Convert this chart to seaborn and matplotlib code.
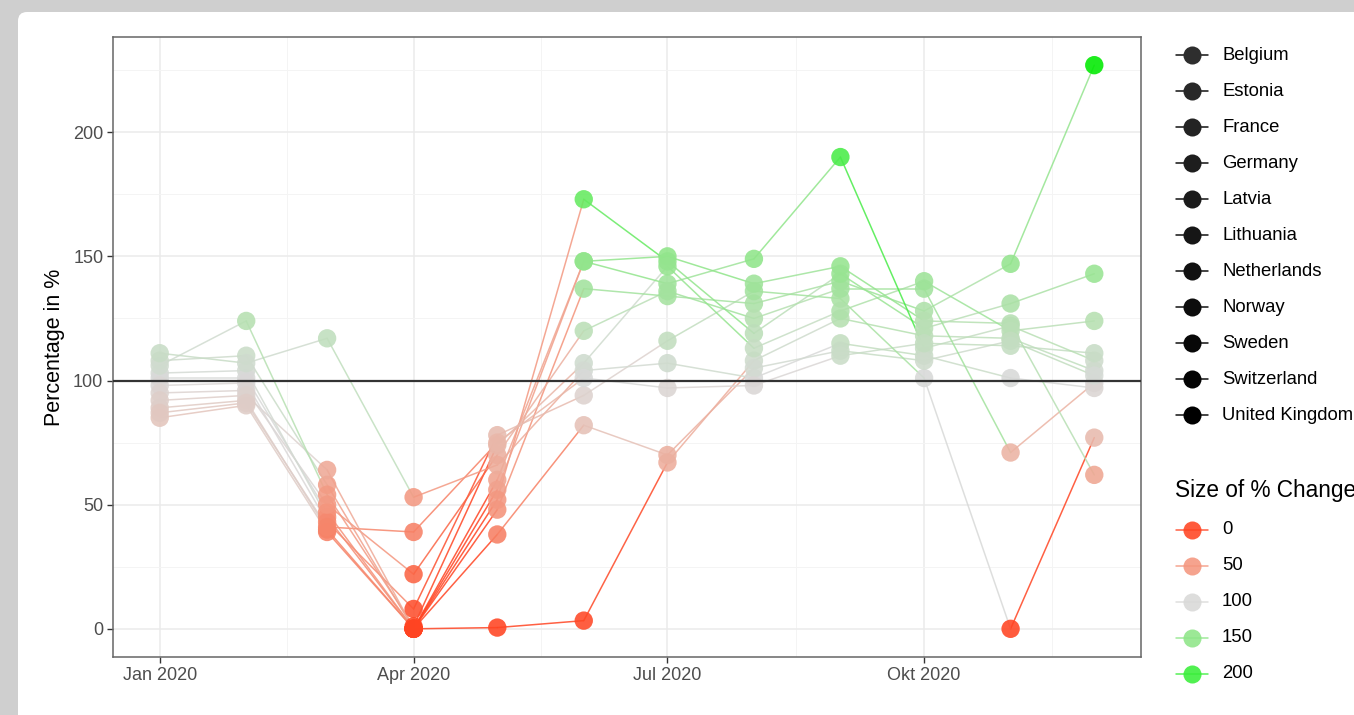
import numpy as np
import pandas as pd
import matplotlib
matplotlib.use("Agg")
import matplotlib.pyplot as plt
import matplotlib.dates as mdates
import seaborn as sns
from matplotlib.colors import LinearSegmentedColormap, Normalize
from matplotlib.patches import FancyBboxPatch
from matplotlib.lines import Line2D

# ---------------- data ----------------
months = ["2020-01-01", "2020-02-01", "2020-03-01", "2020-04-01", "2020-05-01", "2020-06-01",
          "2020-07-01", "2020-08-01", "2020-09-01", "2020-10-01", "2020-11-01", "2020-12-01"]
countries = ["Belgium", "Estonia", "France", "Germany", "Latvia", "Lithuania",
             "Netherlands", "Norway", "Sweden", "Switzerland", "United Kingdom"]

belgium = [89, 92, 40, 0, 0.5, 3.3, 67, 108, 125, 118, 117, 104]
estonia = [103, 104, 45, 0, 56, 148, 139, 149, 190, 113, 122, 108]
france = [101, 101, 47, 0, 48, 137, 134, 131, 140, 128, 147, 227]
germany = [98, 99, 43, 8, 78, 94, 116, 136, 133, 101, 0, 77]
latvia = [95, 96, 50, 22, 70, 120, 136, 125, 137, 137, 71, 99]
lithuania = [108, 110, 58, 0, 60, 148, 150, 139, 146, 124, 123, 62]
netherlands = [92, 94, 64, 0, 52, 173, 148, 119, 143, 121, 131, 143]
norway = [106, 124, 54, 1, 74, 107, 146, 113, 128, 140, 120, 124]
sweden = [111, 107, 117, 53, 66, 104, 107, 101, 115, 110, 101, 97]
switzerland = [85, 90, 39, 0, 38, 82, 70, 105, 112, 108, 116, 102]
united_kingdom = [87, 91, 41, 39, 75, 101, 97, 98, 110, 115, 114, 111]

series = [belgium, estonia, france, germany, latvia, lithuania,
          netherlands, norway, sweden, switzerland, united_kingdom]

x_tick_dates = ["2020-01-01", "2020-04-01", "2020-07-01", "2020-10-01"]
x_tick_labels = ["Jan 2020", "Apr 2020", "Jul 2020", "Okt 2020"]
y_ticks = [0, 50, 100, 150, 200]
legend_values = [0, 50, 100, 150, 200]
legend_title = "Size of % Change"
y_label = "Percentage in %"

# ---------------- colour scale ----------------
anchor_vals = [0, 25, 50, 75, 100, 125, 150, 175, 200, 227]
anchor_cols = ["#FF4422", "#FA6A4A", "#F4967E", "#E9B8AA", "#D9D9D9",
               "#B4E0AF", "#8FE589", "#62EA5E", "#3AEE3A", "#00EA00"]
vmin, vmax = 0, 227
cmap = LinearSegmentedColormap.from_list(
    "chg", [((v - vmin) / (vmax - vmin), c) for v, c in zip(anchor_vals, anchor_cols)])
norm = Normalize(vmin, vmax)

# ---------------- long data ----------------
dates = pd.to_datetime(months)
pts = pd.DataFrame([(c, d, v) for c, s in zip(countries, series) for d, v in zip(dates, s)],
                   columns=["country", "date", "value"])
seg_rows = []
sid = 0
for c, s in zip(countries, series):
    for i in range(len(s) - 1):
        seg_rows.append((c, sid, dates[i], s[i], s[i]))
        seg_rows.append((c, sid, dates[i + 1], s[i + 1], s[i]))
        sid += 1
segs = pd.DataFrame(seg_rows, columns=["country", "seg", "date", "value", "start"])

# ---------------- figure ----------------
sns.set_theme(style="white")
plt.rcParams["font.family"] = ["Liberation Sans", "DejaVu Sans"]

W, H = 1354, 715
fig = plt.figure(figsize=(W / 100, H / 100), dpi=100, facecolor="#CFCFCF")
frame = FancyBboxPatch((0.18, -0.5), 14.0, (H - 12) / 100 + 0.5,
                       boxstyle="round,pad=0,rounding_size=0.09",
                       transform=fig.dpi_scale_trans, facecolor="white",
                       edgecolor="none", zorder=-5)
fig.patches.append(frame)

L, R, T, B = 113, 1141, 37, 657
ax = fig.add_axes([L / W, 1 - B / H, (R - L) / W, (B - T) / H])
ax.set_zorder(1)
ax.set_facecolor("white")

sns.lineplot(data=segs, x="date", y="value", hue="start", units="seg", estimator=None,
             palette=cmap, hue_norm=norm, legend=False, sort=False,
             linewidth=1.1, alpha=0.85, ax=ax, zorder=2)
sns.scatterplot(data=pts, x="date", y="value", hue="value", palette=cmap, hue_norm=norm,
                s=175, alpha=0.88, linewidth=0, legend=False, ax=ax, zorder=3)
ax.axhline(100, color="#333333", lw=1.6, zorder=4)

# axes scales
d0 = mdates.date2num(dates[0]); d1 = mdates.date2num(dates[-1])
pad = 0.05 * (d1 - d0)
ax.set_xlim(d0 - pad, d1 + pad)
ax.set_ylim(-0.05 * 227, 227 * 1.05)

major = [mdates.date2num(pd.Timestamp(d)) for d in x_tick_dates]
minor = [(a + b) / 2 for a, b in zip(major, major[1:] + [mdates.date2num(pd.Timestamp("2021-01-01"))])]
ax.set_xticks(major)
ax.set_xticklabels(x_tick_labels)
ax.set_xticks(minor, minor=True)
ax.set_yticks(y_ticks)
ax.set_yticks([25, 75, 125, 175, 225], minor=True)

ax.grid(which="major", color="#EBEBEB", lw=1.1)
ax.grid(which="minor", color="#F4F4F4", lw=0.7)
ax.set_axisbelow(True)
ax.tick_params(which="major", length=4, width=1, color="#333333",
               labelsize=13, labelcolor="#4D4D4D", pad=3, bottom=True, left=True)
ax.tick_params(which="minor", length=0)
for sp in ax.spines.values():
    sp.set_color("#666666")
    sp.set_linewidth(1.1)
ax.set_xlabel("")
ax.set_ylabel(y_label, fontsize=15.5, color="black", va="center")
ax.yaxis.set_label_coords((55 - L) / (R - L), 0.5)

# ---------------- legends (manual, in pixel positions) ----------------
def fx(px):
    return px / W

def fy(py):
    return 1 - py / H

key_cols = [plt.cm.Greys(v) for v in np.linspace(0.85, 1.0, len(countries))]
for i, c in enumerate(countries):
    y = 55 + 36 * i
    fig.add_artist(Line2D([fx(1176), fx(1208)], [fy(y), fy(y)], color="#111111", lw=1.1))
    fig.add_artist(Line2D([fx(1192)], [fy(y)], marker="o", markersize=13,
                          markerfacecolor=key_cols[i], markeredgewidth=0, ls="none"))
    fig.text(fx(1222), fy(y), c, fontsize=13.3, va="center", ha="left", color="black")

fig.text(fx(1175), fy(490), legend_title, fontsize=16.3, va="center", ha="left", color="black")
for i, v in enumerate(legend_values):
    y = 530 + 36 * i
    col = cmap(norm(v))
    fig.add_artist(Line2D([fx(1176), fx(1208)], [fy(y), fy(y)], color=col, lw=1.1, alpha=0.85))
    fig.add_artist(Line2D([fx(1192)], [fy(y)], marker="o", markersize=13,
                          markerfacecolor=col, markeredgewidth=0, ls="none", alpha=0.88))
    fig.text(fx(1222), fy(y), str(v), fontsize=13.3, va="center", ha="left", color="black")

fig.savefig("out.png", dpi=100, facecolor=fig.get_facecolor())
